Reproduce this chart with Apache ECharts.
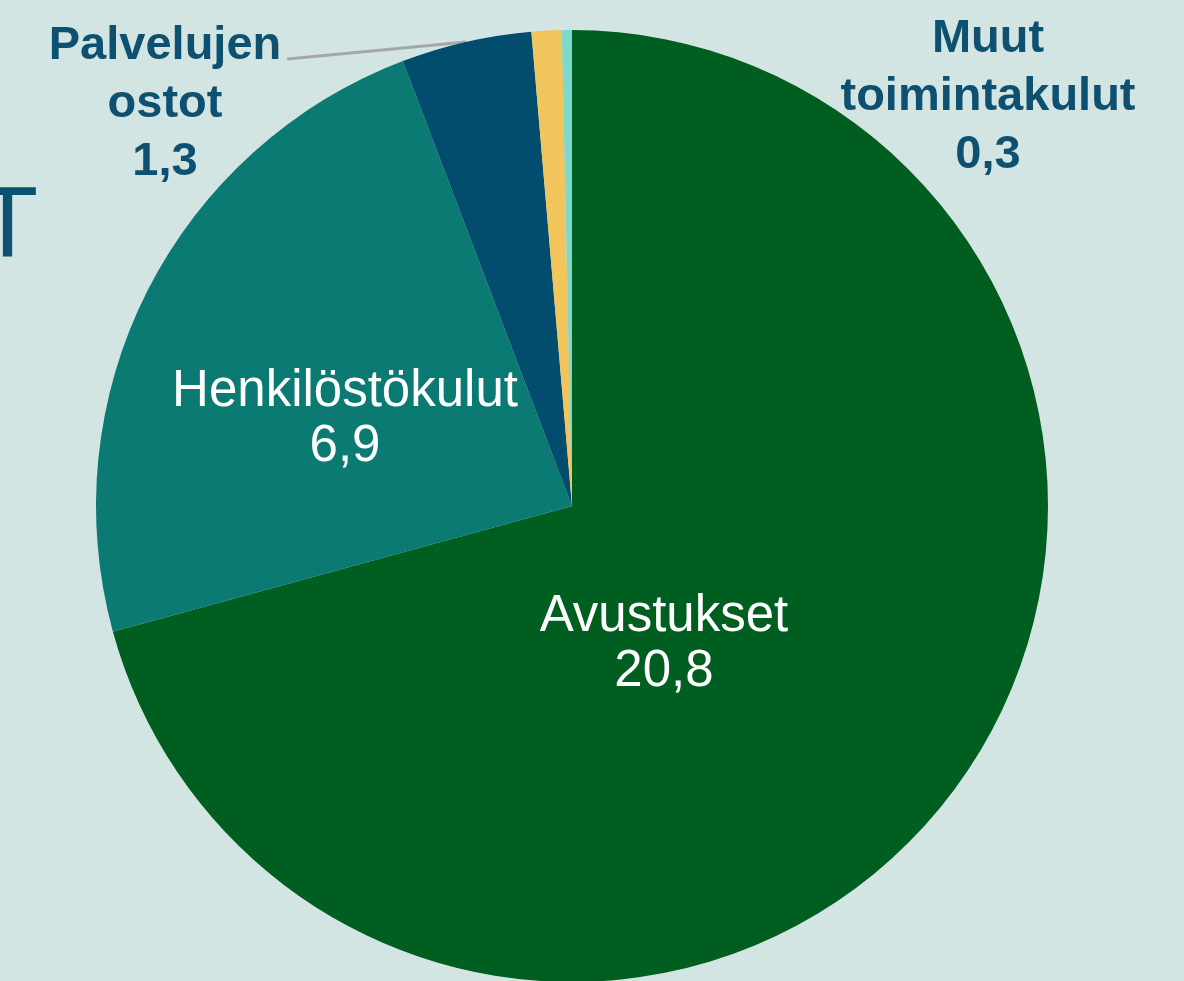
<!DOCTYPE html>
<html>
<head>
<meta charset="utf-8">
<script src="https://cdn.jsdelivr.net/npm/echarts@6/dist/echarts.min.js"></script>
<style>
  html, body { margin: 0; padding: 0; background: #d3e5e3; }
  #chart { width: 1184px; height: 981px; }
</style>
</head>
<body>
<div id="chart"></div>
<script>
// menot (milj. euroa)
const categories = ["Avustukset", "Henkilöstökulut", "Palvelujen ostot", "Muut toimintakulut", "Muut erät"];
const values = [20.8, 6.9, 1.3, 0.3, 0.1];
const colors = ["#005e20", "#0a7a72", "#024d6d", "#f1c55c", "#7dd9cb"];

// label centres (layout only)
const labelPos = [[664, 644], [345, 419], [165, 104], [988, 97], null];

const chart = echarts.init(document.getElementById("chart"));

const pieData = categories.map(function (name, i) {
  const item = { name: name, value: values[i], itemStyle: { color: colors[i] } };
  if (i < 2) {
    item.label = { position: "inside", color: "#ffffff", fontSize: 51, fontWeight: "normal", lineHeight: 55 };
  }
  if (i === 2) {
    item.labelLine = { show: true, lineStyle: { color: "#a3a7a8", width: 3 } };
  }
  if (i === 4) {
    item.label = { show: false };
  }
  return item;
});

const option = {
  backgroundColor: "#d3e5e3",
  animation: false,
  graphic: [
    {
      type: "text",
      left: -23,
      top: 178,
      style: { text: "T", fontSize: 100, fontFamily: "Liberation Sans", fill: "#0a5172" }
    }
  ],
  series: [
    {
      type: "pie",
      center: [572, 506],
      radius: 476,
      startAngle: 90,
      clockwise: true,
      avoidLabelOverlap: false,
      data: pieData,
      itemStyle: { borderWidth: 0 },
      label: {
        show: true,
        position: "outside",
        fontFamily: "Liberation Sans",
        fontSize: 47,
        fontWeight: "bold",
        lineHeight: 58,
        color: "#0e5070",
        align: "center",
        formatter: function (p) {
          return p.name.replace(" ", "\n") + "\n" + String(p.value).replace(".", ",");
        }
      },
      labelLine: { show: false },
      labelLayout: function (params) {
        const p = labelPos[params.dataIndex];
        if (!p) return {};
        const out = { x: p[0], y: p[1], align: "center", verticalAlign: "middle" };
        if (params.dataIndex === 2 && params.labelLinePoints) {
          const r = params.labelRect;
          out.labelLinePoints = [
            params.labelLinePoints[0],
            [p[0] + r.width / 2 + 6, p[1] - r.height / 2 + 42]
          ];
        }
        return out;
      }
    }
  ]
};

chart.setOption(option);
</script>
</body>
</html>
